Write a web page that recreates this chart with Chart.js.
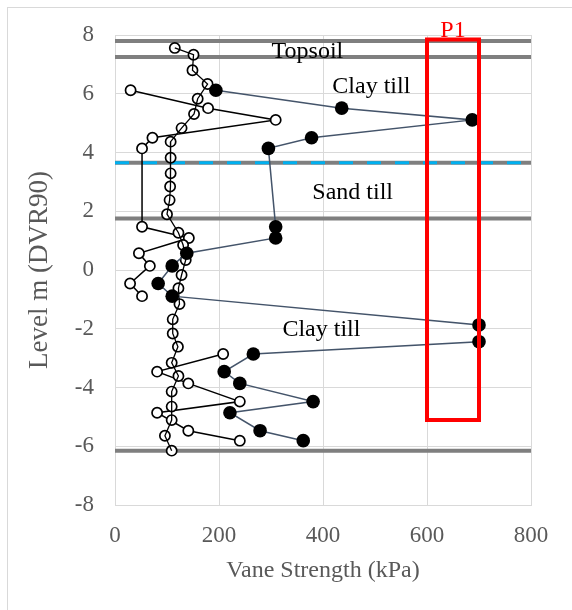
<!DOCTYPE html>
<html>
<head>
<meta charset="utf-8">
<script src="https://cdn.jsdelivr.net/npm/chart.js@4.4.1/dist/chart.umd.min.js"></script>
<style>
  body { margin: 0; background: #fff; }
  #frame { position: absolute; left: 7px; top: 7px; width: 700px; height: 700px; border: 1px solid #d9d9d9; }
  #graf { position: absolute; left: 0; top: 0; }
</style>
</head>
<body>
<div id="frame"></div>
<canvas id="graf" width="572" height="610"></canvas>
<script>
// niveles donde hay medicion de pico (rellenos) y su pareja abierta
var nivelPico = [6.12, 5.51, 5.11, 4.50, 4.14, 1.47, 1.09, 0.57, 0.14, -0.46, -0.89, -1.87, -2.44, -2.86, -3.46, -3.86, -4.48, -4.86, -5.47, -5.81];
var resistRelleno = [194, 436, 687, 378, 295, 309, 309, 138, 110, 83, 110, 700, 700, 266, 210, 240, 381, 221, 279, 362];
var resistAbierto = [30, 179, 309, 72, 52, 52, 142, 46, 67, 29, 52, null, null, 208, 81, 141, 240, 81, 141, 240];

// columna de ensayos cada ~0.5 m
var nivelColumna = [7.56, 7.33, 6.80, 6.33, 5.83, 5.31, 4.83, 4.37, 3.82, 3.29, 2.84, 2.38, 1.90, 1.27, 0.85, 0.34, -0.17, -0.62, -1.16, -1.68, -2.16, -2.61, -3.16, -3.61, -4.14, -4.65, -5.11, -5.64, -6.15];
var resistColumna = [115, 151, 149, 178, 159, 152, 128, 107, 107, 107, 106, 105, 100, 122, 131, 136, 128, 122, 124, 111, 111, 121, 109, 122, 109, 109, 109, 96, 109];

// limites de capas y nivel freatico
var nivelCapas = [7.8, 7.25, 1.75, -6.15];
var nivelAgua = [3.65];

// caja P1
var cajaX = [600, 700, 700, 600, 600];
var cajaY = [7.85, 7.85, -5.11, -5.11, 7.85];

var ticksX = [0, 200, 400, 600, 800];
var ticksY = [-8, -6, -4, -2, 0, 2, 4, 6, 8];

// textos sobre el grafico
var notas = [
  { texto: 'Topsoil', x: 370, y: 7.23, color: '#000000' },
  { texto: 'Clay till', x: 493, y: 6.04, color: '#000000' },
  { texto: 'Sand till', x: 457, y: 2.42, color: '#000000' },
  { texto: 'Clay till', x: 397, y: -2.24, color: '#000000' },
  { texto: 'P1', x: 650, y: 7.93, color: '#ff0000' }
];

var serif = '"Liberation Serif", "Times New Roman", serif';

function puntos(xs, ys) {
  var out = [];
  for (var i = 0; i < ys.length; i++) {
    out.push({ x: xs[i], y: xs[i] == null ? null : ys[i] });
  }
  return out;
}

function lineasHorizontales(niveles) {
  var out = [];
  for (var i = 0; i < niveles.length; i++) {
    out.push({ x: ticksX[0], y: niveles[i] });
    out.push({ x: ticksX[ticksX.length - 1], y: niveles[i] });
    out.push({ x: null, y: null });
  }
  return out;
}

const notasPlugin = {
  id: 'notas',
  afterDatasetsDraw(chart) {
    const { ctx, scales: { x, y } } = chart;
    ctx.save();
    ctx.font = '24px ' + serif;
    ctx.textAlign = 'center';
    ctx.textBaseline = 'alphabetic';
    for (var i = 0; i < notas.length; i++) {
      ctx.fillStyle = notas[i].color;
      ctx.fillText(notas[i].texto, x.getPixelForValue(notas[i].x), y.getPixelForValue(notas[i].y));
    }
    ctx.restore();
  }
};

new Chart(document.getElementById('graf'), {
  type: 'scatter',
  data: {
    datasets: [
      {
        label: 'P1',
        data: puntos(cajaX, cajaY),
        showLine: true,
        borderColor: '#ff0000',
        borderWidth: 4,
        borderCapStyle: 'square',
        borderJoinStyle: 'miter',
        pointRadius: 0,
        order: 0
      },
      {
        label: 'relleno',
        data: puntos(resistRelleno, nivelPico),
        showLine: true,
        borderColor: '#44546a',
        borderWidth: 1.5,
        pointRadius: 6.8,
        pointBackgroundColor: '#000000',
        pointBorderColor: '#000000',
        pointBorderWidth: 0,
        order: 1
      },
      {
        label: 'columna linea',
        data: puntos(resistColumna, nivelColumna),
        showLine: true,
        borderColor: '#000000',
        borderWidth: 1.3,
        pointRadius: 0,
        order: 2
      },
      {
        label: 'columna',
        data: puntos(resistColumna, nivelColumna),
        showLine: false,
        pointRadius: 5.1,
        pointBorderWidth: 1.7,
        pointBackgroundColor: '#ffffff',
        pointBorderColor: '#000000',
        order: 3
      },
      {
        label: 'abierto',
        data: puntos(resistAbierto, nivelPico),
        showLine: true,
        borderColor: '#000000',
        borderWidth: 1.5,
        pointRadius: 5.1,
        pointBorderWidth: 1.7,
        pointBackgroundColor: '#ffffff',
        pointBorderColor: '#000000',
        order: 4
      },
      {
        label: 'agua',
        data: lineasHorizontales(nivelAgua),
        showLine: true,
        borderColor: '#00b0f0',
        borderWidth: 3,
        borderDash: [14, 14],
        pointRadius: 0,
        order: 5
      },
      {
        label: 'agua gris',
        data: lineasHorizontales(nivelAgua),
        showLine: true,
        borderColor: '#7f7f7f',
        borderWidth: 4,
        pointRadius: 0,
        order: 6
      },
      {
        label: 'capas',
        data: lineasHorizontales(nivelCapas),
        showLine: true,
        borderColor: '#7f7f7f',
        borderWidth: 4,
        pointRadius: 0,
        order: 7
      }
    ]
  },
  options: {
    responsive: false,
    animation: false,
    events: [],
    layout: { padding: { left: 0, right: 41, top: 35, bottom: 0 } },
    plugins: {
      legend: { display: false },
      tooltip: { enabled: false }
    },
    scales: {
      x: {
        type: 'linear',
        min: ticksX[0],
        max: ticksX[ticksX.length - 1],
        afterBuildTicks: (s) => { s.ticks = ticksX.map(v => ({ value: v })); },
        afterFit: (s) => { s.height = 105; },
        grid: { color: '#d9d9d9', drawTicks: false },
        border: { color: '#d9d9d9' },
        ticks: { color: '#595959', font: { family: serif, size: 23 }, padding: 17 },
        title: {
          display: true,
          text: 'Vane Strength (kPa)',
          color: '#595959',
          font: { family: serif, size: 24 },
          padding: { top: 0, bottom: 25 }
        }
      },
      y: {
        type: 'linear',
        min: ticksY[0],
        max: ticksY[ticksY.length - 1],
        afterBuildTicks: (s) => { s.ticks = ticksY.map(v => ({ value: v })); },
        afterFit: (s) => { s.width = 115; },
        grid: { color: '#d9d9d9', drawTicks: false },
        border: { color: '#d9d9d9' },
        ticks: { color: '#595959', font: { family: serif, size: 23 }, padding: 21 },
        title: {
          display: true,
          text: 'Level m (DVR90)',
          color: '#595959',
          font: { family: serif, size: 27 },
          padding: { top: 24, bottom: 0 }
        }
      }
    }
  },
  plugins: [notasPlugin]
});
</script>
</body>
</html>
